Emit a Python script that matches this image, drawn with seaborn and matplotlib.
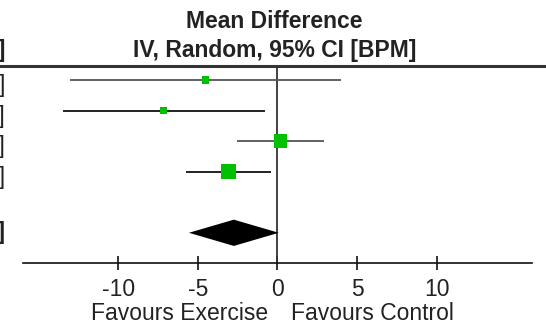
import numpy as np
import matplotlib
matplotlib.use('Agg')
import matplotlib.pyplot as plt
import seaborn as sns

# study rows: mean difference [95% CI] in BPM, weights in %
md = [-4.53, -7.14, 0.18, -3.10]
ci_lo = [-13.03, -13.49, -2.56, -5.77]
ci_hi = [3.97, -0.79, 2.92, -0.43]
weights = [10.5, 10.0, 35.6, 43.9]
pooled = [-2.74, -5.56, 0.08]  # estimate, lower, upper
ticks = [-10, -5, 0, 5, 10]
tick_labels = ['-10', '-5', '0', '5', '10']
title_lines = ['Mean Difference', 'IV, Random, 95% CI [BPM]']
favours = ['Favours Exercise', 'Favours Control']

sns.set_theme(style='white')
plt.rcParams['font.family'] = ['Liberation Sans', 'DejaVu Sans']

fig = plt.figure(figsize=(5.46, 3.22), dpi=100)
ax = fig.add_axes([0, 0, 1, 1])
ax.set_xlim(-17.43, 16.87)
ax.set_ylim(7.92, -2.62)

rows = np.arange(len(md))
txt = '#222222'
fs = 16.5

# confidence intervals
line_cols = ['#555555', '#111111', '#555555', '#111111']
ax.hlines(rows, ci_lo, ci_hi, colors=line_cols, lw=1.3, zorder=2)

# weighted squares
side_pt = 2.25 * np.sqrt(weights) * 0.72
sns.scatterplot(x=md, y=rows, marker='s', s=side_pt ** 2, color='#00c000',
                edgecolor='none', linewidth=0, ax=ax, zorder=3, legend=False)

# pooled diamond
y_tot = len(md) + 1
est, lo, hi = pooled
ax.fill([lo, est, hi, est], [y_tot, y_tot - 0.43, y_tot, y_tot + 0.43],
        color='black', lw=0, zorder=3)

# line of no effect and header rule
ax.vlines(0, -0.46, len(md) + 2, colors='#333333', lw=1.3, zorder=1)
ax.axhline(-0.46, color='#333333', lw=2.2)

# x axis
for side in ['top', 'left', 'right']:
    ax.spines[side].set_visible(False)
ax.spines['bottom'].set_position(('data', len(md) + 2))
ax.spines['bottom'].set_bounds(-16, 16)
ax.spines['bottom'].set_color('#111111')
ax.spines['bottom'].set_linewidth(1.2)
ax.set_xticks(ticks)
ax.set_xticklabels(tick_labels)
ax.set_yticks([])
ax.tick_params(axis='x', direction='inout', length=10, width=1.2,
               colors='#111111', labelsize=fs, pad=5.5, bottom=True)
for lab in ax.get_xticklabels():
    lab.set_color(txt)

# left column remnants (cut by the figure edge, as in the reference)
tr = ax.get_yaxis_transform()
for i in rows:
    ax.text(0.009, i + 0.18, f'{md[i]:.2f} [{ci_lo[i]:.2f}, {ci_hi[i]:.2f}]',
            transform=tr, ha='right', va='center', fontsize=fs, color=txt)
ax.text(0.009, y_tot, f'{est:.2f} [{lo:.2f}, {hi:.2f}]', transform=tr,
        ha='right', va='center', fontsize=fs, color=txt, fontweight='bold')
ax.text(0.009, -0.98, title_lines[1], transform=tr, ha='right', va='center',
        fontsize=fs, color=txt, fontweight='bold')

# titles
ax.text(0.503, -1.93, title_lines[0], transform=tr, ha='center', va='center',
        fontsize=fs, color=txt, fontweight='bold')
ax.text(0.503, -0.98, title_lines[1], transform=tr, ha='center', va='center',
        fontsize=fs, color=txt, fontweight='bold')

# favours labels
ax.text(-0.6, 7.63, favours[0], ha='right', va='center', fontsize=fs, color=txt)
ax.text(0.85, 7.63, favours[1], ha='left', va='center', fontsize=fs, color=txt)

fig.savefig('out.png', dpi=100)
